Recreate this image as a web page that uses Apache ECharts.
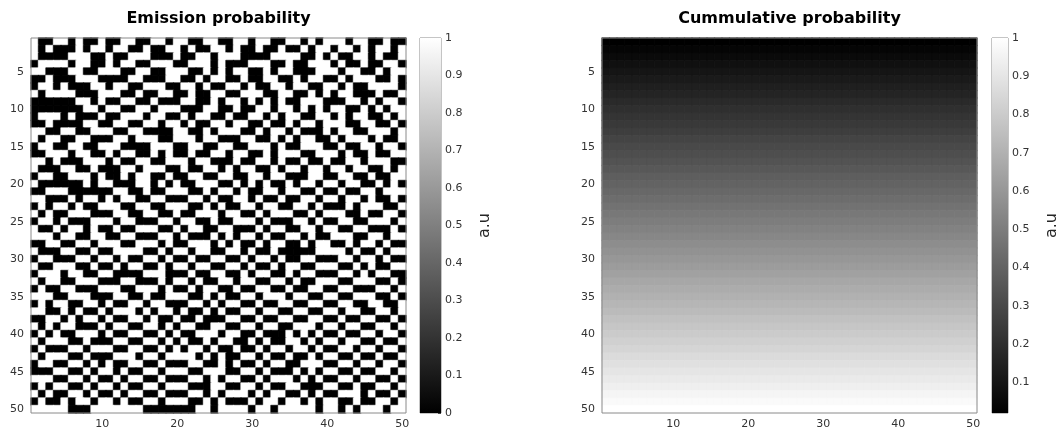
<!DOCTYPE html>
<html><head><meta charset="utf-8">
<script src="https://cdn.jsdelivr.net/npm/echarts@6/dist/echarts.min.js"></script>
<style>html,body{margin:0;padding:0;background:#fff}#c{width:1061px;height:435px}</style>
</head><body><div id="c"></div>
<script>
// ---- data ----
const categories = ["1","2","3","4","5","6","7","8","9","10","11","12","13","14","15","16","17","18","19","20","21","22","23","24","25","26","27","28","29","30","31","32","33","34","35","36","37","38","39","40","41","42","43","44","45","46","47","48","49","50"];
// Emission probability: one string per row (row 1 at top), 1 = white (1.0), 0 = black (0.0)
const emissionRows = [
"10011010010011001101100110011011001101011101100100",
"10100010110110010011010011010010010010110110101101",
"10000111001001110001001101110000111100101001101001",
"01111011001011001110011101000111001001110100100110",
"11000110011100110011100101011001011000111011001011",
"00100011100001100011001011001001100101100101110010",
"01101000110110011100110100110100110110011010011110",
"10111100011100100110010011001110011001010110001001",
"00000011010011001000110010110101010011100011010110",
"00000001101100110111000110010011011010101100101011",
"01110100010011101100101100100110101100110101100101",
"00100001100110011011010011011001001011011100110010",
"11001100111001100001100101110010110100010110011101",
"10110011000110111001110110001100101011001011101001",
"01100110011100001110011001100111010011100100110110",
"00111011001011001010010011011001011100111010010011",
"11010001110100110011101100010011010010010011011100",
"10001100100011011100100110101100101101101101100101",
"01100111010010110010011001100110110001100110010011",
"10000001011000110101001110010101001011011011001010",
"00111000000110010011100101101001101100100100110111",
"11000101101011001100011010011010010011011011010010",
"01011010011100110011100101001101100110100010111001",
"10100111000110011001001110110010111001011100100110",
"01101000111011000110110010011101000110100110011101",
"10010110100100111001011001100010110011011001100010",
"11101100110011000110100010101101001101001110011011",
"00110011011100111010011101010010110010110010110100",
"10001100100111100101101100110100100000111101001011",
"01100011011010011010010011001011010011000110110100",
"10011100100101100101101100110100101100111001010011",
"01110110011000011100010011001011001011000110101100",
"10110011100011000101101001101100110100111001110010",
"01001100011100111010010110010011001001100110001101",
"11100111000110010011100101001101110110011001110010",
"01011001101001101100011010110010011001100110011001",
"11001010010111010110100101001101100110011011001101",
"00110101101001101001001000110010011001100100110010",
"10101100010110011010110011001101100111011011001101",
"01010011101001100101001110110010001010100100110110",
"10111001000110011010100101100101001101011011001001",
"01000110111001100101011010010010110110100110110110",
"10111001000111011011110101001101001001011001001001",
"01100110101001100100011001010010110011100110110110",
"00011001011010011011100111001101000101011001001101",
"11100110100101100100011010110010111010100110110010",
"01011001011010011011100011001101001100011001001101",
"10100110100101100100011010111010110010100111010010",
"01001011011010011011100101000101101101011001001101",
"11111000111111100000001101111011011111011010111011"
];
// Cumulative probability: value of each row (constant across columns), row 1 at top
const cumulativeRows = [0.02,0.04,0.06,0.08,0.10,0.12,0.14,0.16,0.18,0.20,0.22,0.24,0.26,0.28,0.30,0.32,0.34,0.36,0.38,0.40,0.42,0.44,0.46,0.48,0.50,0.52,0.54,0.56,0.58,0.60,0.62,0.64,0.66,0.68,0.70,0.72,0.74,0.76,0.78,0.80,0.82,0.84,0.86,0.88,0.90,0.92,0.94,0.96,0.98,1.00];
const xTickLabels = ["10","20","30","40","50"];
const yTickLabels = ["5","10","15","20","25","30","35","40","45","50"];
const cbTicksLeft = [0,0.1,0.2,0.3,0.4,0.5,0.6,0.7,0.8,0.9,1];
const cbTicksRight = [0.1,0.2,0.3,0.4,0.5,0.6,0.7,0.8,0.9,1];
const titles = ["Emission probability","Cummulative probability"];
const cbLabel = "a.u";

// ---- build ----
function grayOf(v, lo, hi){ const g = Math.round(Math.max(0,Math.min(1,(v-lo)/(hi-lo)))*255); return 'rgb('+g+','+g+','+g+')'; }
const emData = [];
emissionRows.forEach((row, r) => {
  for (let c = 0; c < categories.length; c++) {
    const v = row[c] === '0' ? 0 : 1;
    emData.push({ value: [c, r, v], itemStyle: { borderColor: grayOf(v,0,1), borderWidth: 0.6 } });
  }
});
const cuData = [];
cumulativeRows.forEach((v, r) => {
  for (let c = 0; c < categories.length; c++) {
    cuData.push({ value: [c, r, v], itemStyle: { borderColor: grayOf(v,0.02,1), borderWidth: 0.6 } });
  }
});

const FONT = 'DejaVu Sans';
const TXT = '#333333';
const FRAME = '#8a8a8a';
function catAxis(gridIndex, position, showLabel, labels, isY){
  const show = (i) => labels.indexOf(categories[i]) >= 0;
  return {
    type:'category', gridIndex, position, data: categories, inverse: !!isY, boundaryGap:true, silent:true,
    axisLine:{show:false},
    axisTick:{show:true, inside:true, length:4, alignWithLabel:true, interval:(i)=>show(i), lineStyle:{color:'#444', width:1}},
    axisLabel:{show:showLabel, interval:(i)=>show(i), color:TXT, fontSize:11, fontFamily:FONT, margin:isY?7:6},
    splitLine:{show:false}
  };
}
function cbYAxis(gridIndex, min, ticks){
  return {
    type:'value', gridIndex, position:'right', min, max:1, silent:true,
    axisLine:{show:false}, splitLine:{show:false},
    axisTick:{show:true, inside:true, length:3, customValues:ticks, lineStyle:{color:'#444'}},
    axisLabel:{show:true, customValues:ticks, color:TXT, fontSize:11, fontFamily:FONT, margin:4,
      formatter:(v)=>String(Math.round(v*10)/10)},
    name: cbLabel, nameLocation:'middle', nameRotate:90, nameGap:36,
    nameTextStyle:{fontSize:16, color:'#262626', fontFamily:FONT}
  };
}
const grad = () => new echarts.graphic.LinearGradient(0,1,0,0,[{offset:0,color:'#000'},{offset:1,color:'#fff'}]);

const option = {
  animation:false,
  backgroundColor:'#ffffff',
  grid:[
    {left:31, top:38, width:375, height:375, show:true, borderColor:FRAME, borderWidth:1, backgroundColor:'transparent', z:10},
    {left:602, top:38, width:375, height:375, show:true, borderColor:FRAME, borderWidth:1, backgroundColor:'transparent', z:10},
    {left:420, top:38, width:21, height:375, show:true, borderColor:FRAME, borderWidth:1},
    {left:992, top:38, width:21, height:375, show:true, borderColor:FRAME, borderWidth:1}
  ],
  xAxis:[
    catAxis(0,'bottom',true,xTickLabels,false),
    catAxis(0,'top',false,xTickLabels,false),
    catAxis(1,'bottom',true,xTickLabels,false),
    catAxis(1,'top',false,xTickLabels,false),
    {type:'category', gridIndex:2, data:['cb'], show:false},
    {type:'category', gridIndex:3, data:['cb'], show:false}
  ],
  yAxis:[
    catAxis(0,'left',true,yTickLabels,true),
    catAxis(0,'right',false,yTickLabels,true),
    catAxis(1,'left',true,yTickLabels,true),
    catAxis(1,'right',false,yTickLabels,true),
    cbYAxis(2,0,cbTicksLeft),
    cbYAxis(3,0.02,cbTicksRight)
  ],
  visualMap:[
    {type:'continuous', show:false, min:0, max:1, seriesIndex:0, inRange:{color:['#000000','#ffffff']}},
    {type:'continuous', show:false, min:0.02, max:1, seriesIndex:1, inRange:{color:['#000000','#ffffff']}}
  ],
  graphic:[
    {type:'text', x:218.5, y:19, silent:true, style:{text:titles[0], textAlign:'center', textVerticalAlign:'middle', font:'bold 16px "DejaVu Sans"', fill:'#000'}},
    {type:'text', x:789.5, y:19, silent:true, style:{text:titles[1], textAlign:'center', textVerticalAlign:'middle', font:'bold 16px "DejaVu Sans"', fill:'#000'}}
  ],
  series:[
    {type:'heatmap', xAxisIndex:0, yAxisIndex:0, data:emData, silent:true, emphasis:{disabled:true}, progressive:0},
    {type:'heatmap', xAxisIndex:2, yAxisIndex:2, data:cuData, silent:true, emphasis:{disabled:true}, progressive:0},
    {type:'bar', xAxisIndex:4, yAxisIndex:4, data:[1], barWidth:'100%', silent:true, itemStyle:{color:grad()}},
    {type:'bar', xAxisIndex:5, yAxisIndex:5, data:[1], barWidth:'100%', silent:true, itemStyle:{color:grad()}}
  ]
};
const chart = echarts.init(document.getElementById('c'), null, {renderer:'canvas'});
chart.setOption(option);
</script>
</body></html>
